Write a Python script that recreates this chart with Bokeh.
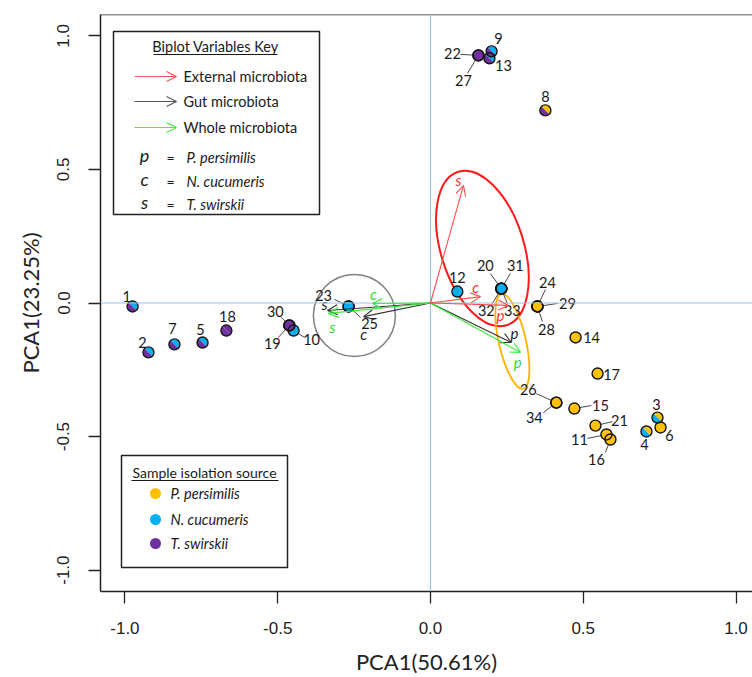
from bokeh.plotting import figure
from bokeh.models import Range1d, ColumnDataSource, Arrow, OpenHead, Span, PrintfTickFormatter, FixedTicker
from bokeh.core.properties import value
from bokeh.embed import file_html
from bokeh.resources import INLINE
import math

# ---------------- data ----------------
sample_ids = [str(i) for i in range(1, 35)]
pc1 = [-0.975, -0.923, 0.743, 0.707, -0.746, 0.753, -0.838, 0.376, 0.200, -0.448,
       0.576, 0.088, 0.193, 0.475, 0.471, 0.589, 0.547, -0.668, -0.462, 0.232,
       0.540, 0.157, -0.268, 0.350, -0.268, 0.412, 0.157, 0.350, 0.350, -0.462,
       0.232, 0.232, 0.232, 0.412]
pc2 = [-0.013, -0.185, -0.429, -0.481, -0.148, -0.466, -0.155, 0.721, 0.942, -0.103,
       -0.492, 0.043, 0.916, -0.129, -0.395, -0.511, -0.264, -0.103, -0.084, 0.054,
       -0.459, 0.927, -0.013, -0.013, -0.013, -0.373, 0.927, -0.013, -0.013, -0.084,
       0.054, 0.054, 0.054, -0.373]
# isolation source(s): first / second half of the marker
src_a = ["Nc", "Nc", "Pp", "Pp", "Nc", "Pp", "Nc", "Pp", "Nc", "Nc",
         "Pp", "Nc", "Nc", "Pp", "Pp", "Pp", "Pp", "Ts", "Ts", "Nc",
         "Pp", "Ts", "Nc", "Pp", "Nc", "Pp", "Ts", "Pp", "Pp", "Ts",
         "Nc", "Nc", "Nc", "Pp"]
src_b = ["Ts", "Ts", "Nc", "Nc", "Ts", "Pp", "Ts", "Ts", "Ts", "Nc",
         "Pp", "Nc", "Ts", "Pp", "Pp", "Pp", "Pp", "Ts", "Ts", "Nc",
         "Pp", "Ts", "Nc", "Pp", "Nc", "Pp", "Ts", "Pp", "Pp", "Ts",
         "Nc", "Nc", "Nc", "Pp"]

# biplot variable vectors (p, c, s)
var_names = ["p", "c", "s"]
ext_x = [0.255, 0.164, 0.108]
ext_y = [-0.009, 0.024, 0.440]
gut_x = [0.265, -0.219, -0.337]
gut_y = [-0.148, -0.051, -0.028]
whole_x = [0.295, -0.190, -0.334]
whole_y = [-0.185, -0.002, -0.039]

# ellipses: red (external), orange (P. persimilis), grey circle
ell_x = [0.170, 0.268, -0.249]
ell_y = [0.204, -0.144, -0.047]

x_ticks = [-1.0, -0.5, 0.0, 0.5, 1.0]
y_ticks = [-1.0, -0.5, 0.0, 0.5, 1.0]
x_title = "PCA1(50.61%)"
y_title = "PCA1(23.25%)"

# ---------------- layout / style ----------------
COL = {"Pp": "#FFC000", "Nc": "#00B0F0", "Ts": "#7030A0"}
W, H = 752, 677
BL, BR, BT, BB = 100, 0, 14, 86
X0, X1 = -1.08, 1.054
Y0, Y1 = -1.08, 1.08
FW, FH = W - BL - BR, H - BT - BB
PPX = FW / (X1 - X0)
PPY = FH / (Y1 - Y0)
PAGE_L, PAGE_T = BL, BT


def gx(px):  # page pixel -> data x
    return X0 + (px - PAGE_L) / PPX


def gy(py):  # page pixel -> data y
    return Y1 - (py - PAGE_T) / PPY


# label offsets (px, y downward) and leader ends
lab_off = [(-6, -10), (-6, -10), (-1, -13), (-2, 13), (-2, -13), (9, 8), (-2, -16), (0, -14),
           (7, -13), (18, 9), (-27, 5), (0, -14), (14, 7), (16, 0), (26, -3), (-14, 20),
           (14, 1), (1, -14), (-17, 18), (-16, -23), (24, -5), (-26, -2), (-25, -11), (10, -24),
           (21, 17), (-28, -13), (-15, 25), (9, 23), (30, -3), (-14, -14), (14, -23), (-15, 22),
           (11, 22), (-22, 15)]
lead_off = [None, None, None, None, None, None, None, None, None, (11, 7), (-19, 4), None,
            None, None, (17, -3), (-5, 13), None, None, (-11, 12), (-11, -15), (17, -4),
            (-18, -1), (-14, -7), (8, -17), (12, 11), (-20, -9), (-11, 18), (5, 15), (20, -3),
            (-8, -8), (9, -15), (-9, 15), (6, 15), (-13, 10)]

p = figure(width=W, height=H, x_range=Range1d(X0, X1), y_range=Range1d(Y0, Y1),
           output_backend="svg", toolbar_location=None,
           min_border_left=BL, min_border_right=BR, min_border_top=BT, min_border_bottom=BB)
p.grid.visible = False
p.outline_line_color = None
p.background_fill_color = "white"

for ax in (p.xaxis[0], p.yaxis[0]):
    ax.axis_line_color = "#222222"
    ax.axis_line_width = 1.5
    ax.major_tick_line_color = "#222222"
    ax.major_tick_line_width = 1.3
    ax.major_tick_out = 12
    ax.major_tick_in = 0
    ax.minor_tick_line_color = None
    ax.formatter = PrintfTickFormatter(format="%.1f")
    ax.major_label_text_font = "Liberation Sans"
    ax.major_label_text_font_size = "17px"
    ax.major_label_text_color = "#222222"
    ax.axis_label_text_font = "Lato"
    ax.axis_label_text_font_size = "22px"
    ax.axis_label_text_font_style = "normal"
    ax.axis_label_text_color = "#222222"
p.xaxis.ticker = FixedTicker(ticks=x_ticks)
p.yaxis.ticker = FixedTicker(ticks=y_ticks)
p.xaxis.axis_label = x_title
p.yaxis.axis_label = y_title
p.yaxis.major_label_orientation = "vertical"
p.xaxis.major_label_standoff = 18
p.xaxis.axis_label_standoff = 11
p.yaxis.major_label_standoff = 19
p.yaxis.axis_label_standoff = 11
p.add_layout(Span(location=Y1, dimension="width", line_color="#222222", line_width=1.5))

# zero lines
p.add_layout(Span(location=0, dimension="width", line_color="#9DC3E6", line_width=1.2))
p.add_layout(Span(location=0, dimension="height", line_color="#9DC3E6", line_width=1.2))

# ellipses (screen-space sizes)
ell_w = [83, 27, 82]
ell_h = [161, 97, 82]
ell_a = [17.4, 12.9, 0.0]
ell_c = ["#FF1A1A", "#FFB300", "#808080"]
ell_lw = [2.0, 1.8, 1.5]
for i in range(3):
    p.ellipse(x=[ell_x[i]], y=[ell_y[i]], width=[ell_w[i]], height=[ell_h[i]],
              width_units="screen", height_units="screen", angle=[math.radians(ell_a[i])],
              fill_color=None, line_color=ell_c[i], line_width=ell_lw[i])

# biplot arrows
for xs, ys, c in ((gut_x, gut_y, "#333333"), (whole_x, whole_y, "#33EE33"), (ext_x, ext_y, "#FF4D4D")):
    s = ColumnDataSource(dict(x0=[0.0] * 3, y0=[0.0] * 3, x1=xs, y1=ys))
    p.add_layout(Arrow(end=OpenHead(size=10, line_color=c, line_width=1.1),
                       x_start="x0", y_start="y0", x_end="x1", y_end="y1", source=s,
                       line_color=c, line_width=1.1))

# arrow labels
lab_var_off = {"ext": [(-8, 10), (-5, -10), (-5, -5)],
               "gut": [(3, -10), (0, 17), (-3, -6)],
               "whole": [(-3, 10), (1, -10), (4, 14)]}
for key, xs, ys, c in (("ext", ext_x, ext_y, "#FF3030"), ("gut", gut_x, gut_y, "#1A1A1A"),
                       ("whole", whole_x, whole_y, "#2FD82F")):
    lx = [xs[i] + lab_var_off[key][i][0] / PPX for i in range(3)]
    ly = [ys[i] - lab_var_off[key][i][1] / PPY for i in range(3)]
    p.text(x=lx, y=ly, text=var_names, text_font=value("Lato"), text_font_size="15px",
           text_font_style="italic", text_color=c, text_align="center", text_baseline="middle")

# leader lines
sx0, sy0, sx1, sy1 = [], [], [], []
for i, lo in enumerate(lead_off):
    if lo is None:
        continue
    sx0.append(pc1[i]); sy0.append(pc2[i])
    sx1.append(pc1[i] + lo[0] / PPX); sy1.append(pc2[i] - lo[1] / PPY)
p.segment(x0=sx0, y0=sy0, x1=sx1, y1=sy1, line_color="#333333", line_width=0.9)

# markers (two-colour split)
ca = [COL[k] for k in src_a]
cb = [COL[k] for k in src_b]
n = len(pc1)
p.wedge(x=pc1, y=pc2, radius=5.2, radius_units="screen", start_angle=[-math.pi / 4] * n,
        end_angle=[3 * math.pi / 4] * n, fill_color=ca, line_color=None)
p.wedge(x=pc1, y=pc2, radius=5.2, radius_units="screen", start_angle=[3 * math.pi / 4] * n,
        end_angle=[7 * math.pi / 4] * n, fill_color=cb, line_color=None)
p.scatter(x=pc1, y=pc2, size=11, marker="circle", fill_color=None, line_color="#111111", line_width=1.4)

# point labels
tx = [pc1[i] + lab_off[i][0] / PPX for i in range(n)]
ty = [pc2[i] - lab_off[i][1] / PPY for i in range(n)]
p.text(x=tx, y=ty, text=sample_ids, text_font=value("Lato"), text_font_size="14.5px",
       text_color="#1A1A1A", text_align="center", text_baseline="middle")

# ---------------- legend 1: biplot variables key ----------------
p.quad(left=[gx(113)], right=[gx(319)], top=[gy(31)], bottom=[gy(214)],
       fill_color="white", line_color="#222222", line_width=1.5)
p.text(x=[gx(215)], y=[gy(46)], text=["Biplot Variables Key"], text_font=value("Lato"),
       text_font_size="14.5px", text_color="#1A1A1A", text_align="center", text_baseline="middle")
p.segment(x0=[gx(153)], y0=[gy(54)], x1=[gx(277)], y1=[gy(54)], line_color="#1A1A1A", line_width=1)
key_labels = ["External microbiota", "Gut microbiota", "Whole microbiota"]
key_cols = ["#FF5050", "#555555", "#44EE44"]
key_y = [76, 101, 127]
for lab, c, yy in zip(key_labels, key_cols, key_y):
    p.add_layout(Arrow(end=OpenHead(size=10, line_color=c, line_width=1.1),
                       x_start=gx(134), y_start=gy(yy), x_end=gx(176), y_end=gy(yy),
                       line_color=c, line_width=1.1))
    p.text(x=[gx(183)], y=[gy(yy)], text=[lab], text_font=value("Lato"), text_font_size="14.5px",
           text_color="#1A1A1A", text_align="left", text_baseline="middle")
species = ["P. persimilis", "N. cucumeris", "T. swirskii"]
sp_y = [156, 180, 203]
for v, sp, yy in zip(var_names, species, sp_y):
    p.text(x=[gx(144)], y=[gy(yy - 2)], text=[v], text_font=value("Lato"), text_font_size="18px",
           text_font_style="italic", text_color="#1A1A1A", text_align="center", text_baseline="middle")
    p.text(x=[gx(170)], y=[gy(yy + 1)], text=["="], text_font=value("Lato"), text_font_size="14px",
           text_color="#1A1A1A", text_align="center", text_baseline="middle")
    p.text(x=[gx(186)], y=[gy(yy + 1)], text=[sp], text_font=value("Lato"), text_font_size="14.5px",
           text_font_style="italic", text_color="#1A1A1A", text_align="left", text_baseline="middle")

# ---------------- legend 2: sample isolation source ----------------
p.quad(left=[gx(121)], right=[gx(287)], top=[gy(455)], bottom=[gy(567)],
       fill_color="white", line_color="#222222", line_width=1.5)
p.text(x=[gx(204)], y=[gy(472)], text=["Sample isolation source"], text_font=value("Lato"),
       text_font_size="14px", text_color="#1A1A1A", text_align="center", text_baseline="middle")
p.segment(x0=[gx(131)], y0=[gy(480)], x1=[gx(278)], y1=[gy(480)], line_color="#1A1A1A", line_width=1)
leg_y = [493, 519, 543]
for k, sp, yy in zip(["Pp", "Nc", "Ts"], species, leg_y):
    p.scatter(x=[gx(155)], y=[gy(yy)], size=11, marker="circle", fill_color=COL[k], line_color=None)
    p.text(x=[gx(170)], y=[gy(yy)], text=[sp], text_font=value("Lato"), text_font_size="14.5px",
           text_font_style="italic", text_color="#1A1A1A", text_align="left", text_baseline="middle")

open("out.html", "w").write(file_html(p, INLINE))
